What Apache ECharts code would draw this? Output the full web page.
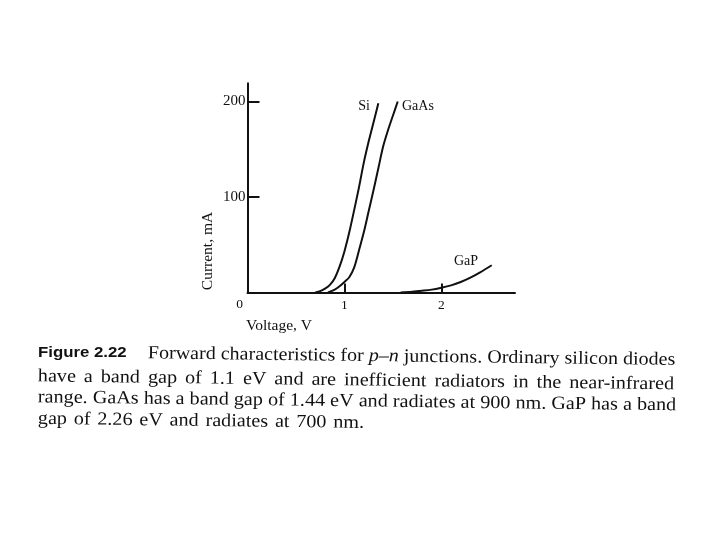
<!DOCTYPE html>
<html><head><meta charset="utf-8">
<script src="https://cdn.jsdelivr.net/npm/echarts@6/dist/echarts.min.js"></script>
<style>html,body{margin:0;padding:0;background:#fff}#c{width:720px;height:540px}</style>
</head><body><div id="c"></div>
<script>
// Data (Voltage V, Current mA)
var siData = [[0.70,0],[0.75,1.5],[0.80,4],[0.85,8],[0.90,15],[0.95,27],[1.00,43],[1.05,63],[1.10,86],[1.15,110],[1.20,136],[1.25,158],[1.30,178],[1.35,198]];
var gaasData = [[0.83,0],[0.90,3],[0.95,6.5],[1.00,11],[1.05,16],[1.10,26],[1.15,44],[1.20,63],[1.25,85],[1.30,107],[1.35,130],[1.40,153],[1.45,170],[1.50,185],[1.55,200]];
var gapData = [[1.58,0],[1.70,0.8],[1.80,1.8],[1.90,3],[2.00,5],[2.10,7.5],[2.20,11],[2.30,15.5],[2.40,21],[2.52,28.5]];
var seriesNames = ['Si','GaAs','GaP'];
var xTickValues = [1, 2];
var xTickLabels = ['1','2'];
var originLabel = '0';
var yTickValues = [100, 200];
var yTickLabels = ['100','200'];
var xAxisTitle = 'Voltage, V';
var yAxisTitle = 'Current, mA';
var figLabel = 'Figure 2.22';
var captionLine1 = ['Forward characteristics for ', 'p–n', ' junctions. Ordinary silicon diodes'];
var captionLine2 = 'have a band gap of 1.1 eV and are inefficient radiators in the near-infrared';
var captionLine3 = 'range. GaAs has a band gap of 1.44 eV and radiates at 900 nm. GaP has a band';
var captionLine4 = 'gap of 2.26 eV and radiates at 700 nm.';

var chart = echarts.init(document.getElementById('c'));
var serif = '"Liberation Serif", "DejaVu Serif", serif';
var ink = '#111';
function lineSeries(name, data){
  return {name:name, type:'line', data:data, smooth:0.3, symbol:'none',
    lineStyle:{color:ink, width:2}, z:3};
}
var capFont = '18.5px ' + serif;
var capScale = 1.09, capRot = -0.0125;
function justified(line){
  return line.split(' ').map(function(w){ return '{w|' + w + '}'; }).join('{s| }');
}
chart.setOption({
  animation:false,
  backgroundColor:'#fff',
  grid:{left:247.5, right:205, top:83.3, bottom:247.5},
  xAxis:{type:'value', min:0, max:2.76,
    axisLine:{lineStyle:{color:ink, width:2}},
    axisTick:{inside:true, length:9, customValues:xTickValues, lineStyle:{color:ink, width:2}},
    axisLabel:{color:ink, fontFamily:serif, fontSize:13.5, margin:6, customValues:xTickValues,
      formatter:function(v){ return xTickLabels[xTickValues.indexOf(v)]; }},
    splitLine:{show:false}
  },
  yAxis:{type:'value', min:0, max:219,
    axisLine:{show:true, lineStyle:{color:ink, width:2}},
    axisTick:{show:true, inside:true, length:12, customValues:yTickValues, lineStyle:{color:ink, width:2}},
    axisLabel:{color:ink, fontFamily:serif, fontSize:15, margin:2, customValues:yTickValues,
      formatter:function(v){ return yTickLabels[yTickValues.indexOf(v)]; }},
    splitLine:{show:false}
  },
  series:[lineSeries(seriesNames[0], siData), lineSeries(seriesNames[1], gaasData), lineSeries(seriesNames[2], gapData)],
  graphic:[
    {type:'text', x:239.5, y:304, style:{text:originLabel, font:'13.5px '+serif, fill:ink, align:'center', verticalAlign:'middle'}},
    {type:'text', x:208, y:251, rotation:Math.PI/2, style:{text:yAxisTitle, font:'15.5px '+serif, fill:ink, align:'center', verticalAlign:'middle'}},
    {type:'text', x:246, y:326, style:{text:xAxisTitle, font:'15.5px '+serif, fill:ink, align:'left', verticalAlign:'middle'}},
    {type:'text', x:364, y:106, style:{text:seriesNames[0], font:'14px '+serif, fill:ink, align:'center', verticalAlign:'middle'}},
    {type:'text', x:402, y:106, style:{text:seriesNames[1], font:'14px '+serif, fill:ink, align:'left', verticalAlign:'middle'}},
    {type:'text', x:454, y:261, style:{text:seriesNames[2], font:'14px '+serif, fill:ink, align:'left', verticalAlign:'middle'}},
    {type:'text', x:38, y:345, scaleX:1.12, style:{text:figLabel, font:'bold 15px "Liberation Sans", Arial, sans-serif', fill:ink}},
    {type:'text', x:148, y:344, scaleX:1.083, rotation:capRot, style:{
      text:'{n|'+captionLine1[0]+'}{i|'+captionLine1[1]+'}{n|'+captionLine1[2]+'}',
      rich:{n:{font:capFont, fill:ink}, i:{font:'italic '+capFont, fill:ink}}}},
    {type:'text', x:38, y:367, scaleX:capScale, rotation:capRot, style:{
      text:justified(captionLine2), rich:{w:{font:capFont, fill:ink}, s:{font:capFont, fill:ink, width:7.3}}}},
    {type:'text', x:38, y:388, scaleX:capScale, rotation:capRot, style:{text:captionLine3, font:capFont, fill:ink}},
    {type:'text', x:38, y:409.5, scaleX:capScale, rotation:capRot, style:{
      text:justified(captionLine4), rich:{w:{font:capFont, fill:ink}, s:{font:capFont, fill:ink, width:6.2}}}}
  ]
});
</script></body></html>
